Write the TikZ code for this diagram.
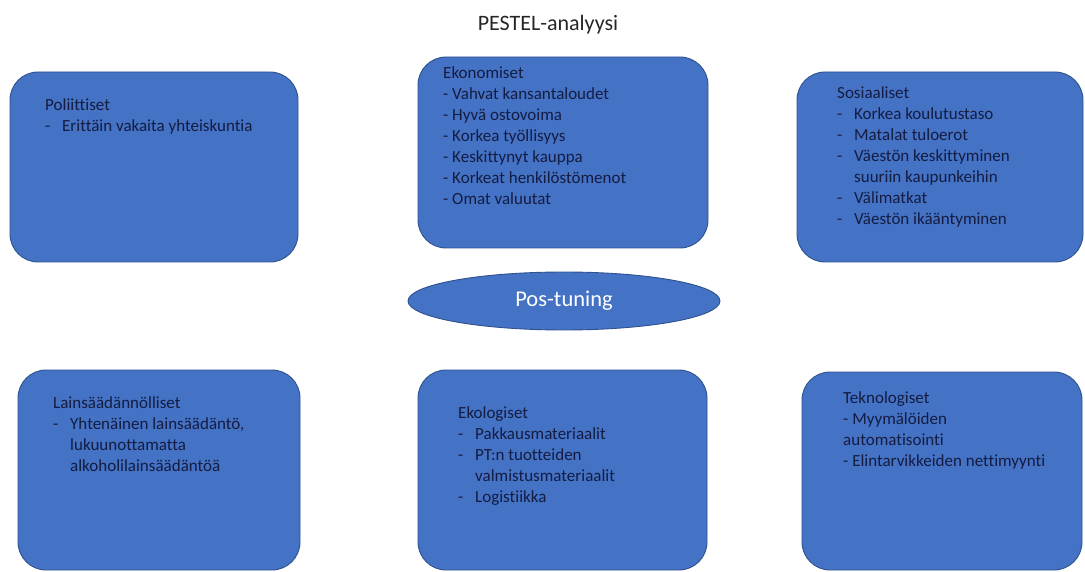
\documentclass[tikz,border=0pt]{standalone}
\usepackage{fontspec}
\setmainfont{Carlito}[Ligatures=NoCommon]
\usepackage{tikz}
\usetikzlibrary{shapes.geometric}

\definecolor{boxblue}{RGB}{68,114,196}
\definecolor{boxedge}{RGB}{47,82,143}
\definecolor{boxtext}{RGB}{20,28,66}

\newcommand{\itm}[1]{\makebox[17pt][l]{-}#1}
\newcommand{\cont}{\hspace*{17pt}}

\tikzset{
  factorbox/.style={draw=boxedge,line width=0.9pt,fill=boxblue,rounded corners=28pt,
    inner sep=0pt},
  factortext/.style={anchor=north west,inner sep=0pt,align=left,text=boxtext,
    font=\fontsize{17}{21}\selectfont},
}

\begin{document}
\begin{tikzpicture}[x=1pt,y=-1pt]
\useasboundingbox (0,0) rectangle (1085,572);
% The title
\node[anchor=base,font=\fontsize{22}{26}\selectfont,text=black!85] (title) at (548,31) {PESTEL-analyysi};
% The six boxes
\foreach \nm/\cx/\cy/\w/\h in {pol/154/167/288/190, eko/563/152.5/290/191, sos/940/167/286/190,
  lai/159/470/282/200, ekol/562.5/470/289/200, tek/942/471/280/198}
{
  \node[factorbox,minimum width=\w pt,minimum height=\h pt] (\nm) at (\cx,\cy) {};
}
% The centre
\node[ellipse,draw=boxedge,line width=0.9pt,fill=boxblue,minimum width=312pt,minimum height=58pt,
  inner sep=0pt,text=white,font=\fontsize{22.5}{26}\selectfont] (pos) at (564,301) {Pos-tuning};

% Texts of the boxes
\node[factortext] (poltxt) at (45,98) {Poliittiset\\
  \itm{Erittäin vakaita yhteiskuntia}};
\node[factortext] (ekotxt) at (443,66) {Ekonomiset\\
  - Vahvat kansantaloudet\\
  - Hyvä ostovoima\\
  - Korkea työllisyys\\
  - Keskittynyt kauppa\\
  - Korkeat henkilöstömenot\\
  - Omat valuutat};
\node[factortext] (sostxt) at (837,86) {Sosiaaliset\\
  \itm{Korkea koulutustaso}\\
  \itm{Matalat tuloerot}\\
  \itm{Väestön keskittyminen}\\
  \cont suuriin kaupunkeihin\\
  \itm{Välimatkat}\\
  \itm{Väestön ikääntyminen}};
\node[factortext] (laitxt) at (53,396) {Lainsäädännölliset\\
  \itm{Yhtenäinen lainsäädäntö,}\\
  \cont lukuunottamatta\\
  \cont alkoholilainsäädäntöä};
\node[factortext] (ekoltxt) at (458,406) {Ekologiset\\
  \itm{Pakkausmateriaalit}\\
  \itm{PT:n tuotteiden}\\
  \cont valmistusmateriaalit\\
  \itm{Logistiikka}};
\node[factortext] (tektxt) at (843,391) {Teknologiset\\
  - Myymälöiden\\
  automatisointi\\
  - Elintarvikkeiden nettimyynti};

\end{tikzpicture}
\end{document}
